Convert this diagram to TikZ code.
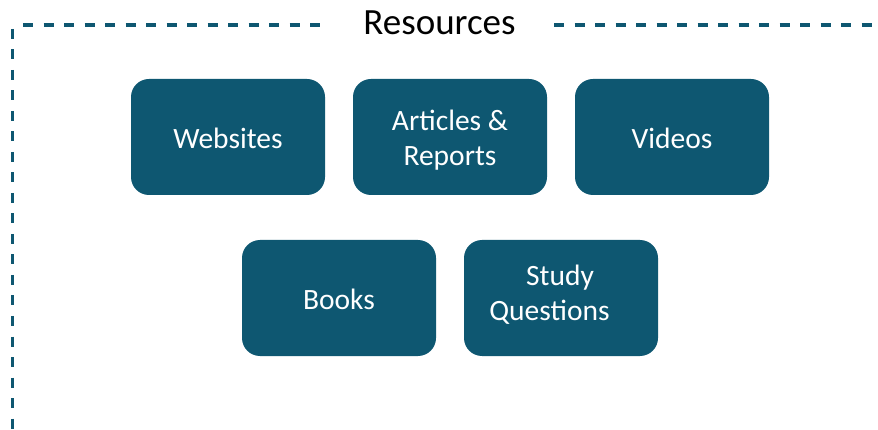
\documentclass[tikz,border=0pt]{standalone}
\usepackage{fontspec}
\setmainfont{Carlito}
\definecolor{teal}{RGB}{14,87,113}
\newcommand\twolines[2]{\begin{tabular}[t]{@{}c@{}}#1\\#2\end{tabular}}
\begin{document}
\begin{tikzpicture}[x=1pt,y=-1pt,
  box/.style={fill=teal, draw=none, rounded corners=18pt, minimum width=194pt, minimum height=116pt, inner sep=0pt},
  btext/.style={anchor=base, text=white, inner sep=0pt, font=\fontsize{29.5}{35}\selectfont},
  frame/.style={draw=teal, line width=3.2pt, dash pattern=on 10pt off 10.5pt}]
\useasboundingbox (0,0) rectangle (878,430);
\node[anchor=base, font=\fontsize{37}{44}\selectfont, inner sep=0pt] (title) at (439.5,34.5) {Resources};
\coordinate (l1) at (23,25);
\coordinate (l2) at (322,25);
\coordinate (r1) at (554,25);
\coordinate (r2) at (880,25);
\coordinate (v1) at (12.5,29);
\coordinate (v2) at (12.5,432);
\draw[frame] (l1) -- (l2);
\draw[frame] (r1) -- (r2);
\draw[frame] (v1) -- (v2);
\node[box] (web) at (228,137) {};
\node[box] (art) at (450,137) {};
\node[box] (vid) at (672,137) {};
\node[box] (book) at (339,298) {};
\node[box] (study) at (561,298) {};
\node[btext] (webt) at (228,149) {Websites};
\node[btext] (artt) at (450,131) {\twolines{Articles \&}{Reports}};
\node[btext] (vidt) at (672,149) {Videos};
\node[btext] (bookt) at (339,309) {Books};
\node[btext, font=\fontsize{29.5}{34.5}\selectfont] (studyt) at (560,286) {\twolines{Study}{Questions\hspace*{21pt}}};
\end{tikzpicture}
\end{document}
